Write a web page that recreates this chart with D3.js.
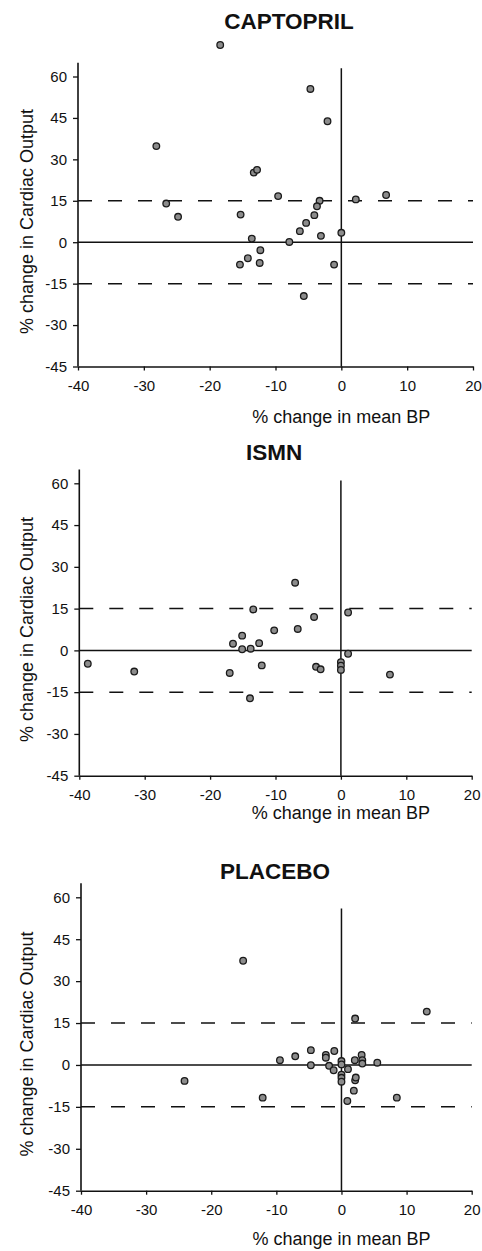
<!DOCTYPE html>
<html>
<head>
<meta charset="utf-8">
<script src="https://cdn.jsdelivr.net/npm/d3@7/dist/d3.min.js"></script>
<style>
  html, body { margin: 0; padding: 0; background: #fff; }
  svg { display: block; }
  text { font-family: "Liberation Sans", Arial, Helvetica, sans-serif; fill: #111; }
</style>
</head>
<body>
<svg id="chart" width="482" height="1251"></svg>
<script>
// ---- Data ----
const panelTitles = ["CAPTOPRIL", "ISMN", "PLACEBO"];
const xTicks = [-40, -30, -20, -10, 0, 10, 20];
const yTicks = [60, 45, 30, 15, 0, -15, -30, -45];
const thresholds = [15, -15];
const xLabel = "% change in mean BP";
const yLabel = "% change in Cardiac Output";

const captoprilBP = [-18.4, -4.7, -2.1, -28.1, -13.3, -12.8, -9.6, -15.3, -3.3, -3.7, -4.1, -5.35, -6.3, -3.1, 0, 2.2, 6.8, -26.6, -24.8, -13.6, -7.9, -12.3, -14.2, -15.4, -12.4, -1.1, -5.7];
const captoprilCO = [71.4, 55.5, 43.8, 34.8, 25.2, 26.2, 16.7, 10.0, 15.0, 13.0, 9.8, 7.0, 4.0, 2.3, 3.4, 15.5, 17.1, 14.0, 9.2, 1.3, 0.1, -2.9, -5.8, -8.1, -7.5, -8.1, -19.5];

const ismnBP = [-7.0, -13.4, -4.1, 1.1, -10.2, -6.6, -15.1, -16.5, -12.5, -15.1, -13.8, 1.1, -38.7, -31.6, -17.0, -12.1, -3.8, -3.1, 0, 0, 0, 7.5, -13.9];
const ismnCO = [24.3, 14.7, 12.0, 13.6, 7.2, 7.7, 5.3, 2.4, 2.6, 0.4, 0.6, -1.2, -4.8, -7.6, -8.1, -5.4, -5.9, -6.8, -4.2, -5.5, -7.0, -8.7, -17.2];

const placeboBP = [-15.1, 13.1, 2.1, -24.1, -12.1, 8.5, 0.9, 1.9, 2.1, -9.45, -7.1, -4.7, -4.7, -2.4, -2.4, -1.1, -1.9, -1.2, 0, 0, 1.0, 0, 0, 0, 2.05, 3.1, 3.2, 3.2, 5.5, 2.2];
const placeboCO = [37.3, 19.1, 16.6, -5.7, -11.7, -11.7, -12.9, -9.2, -5.5, 1.7, 3.1, 5.3, -0.1, 3.6, 2.6, 5.0, -0.3, -1.9, 1.4, 0.2, -1.5, -3.5, -4.6, -6.0, 1.7, 3.6, 1.7, 0.5, 0.8, -4.5];

const seriesX = [captoprilBP, ismnBP, placeboBP];
const seriesY = [captoprilCO, ismnCO, placeboCO];

// ---- Layout (pixels) ----
const layout = [
  { x0: 78,   x1: 473,   yTop: 76.5,  yBot: 366.5,  titleX: 289, titleY: 29,  xLabY: 423,  zeroTop: 63 },
  { x0: 79.3, x1: 471.7, yTop: 483.3, yBot: 775.7,  titleX: 274, titleY: 460, xLabY: 819,  zeroTop: 61 },
  { x0: 81,   x1: 471.7, yTop: 897.3, yBot: 1190.7, titleX: 275, titleY: 879, xLabY: 1245, zeroTop: 56 }
];

const svg = d3.select("#chart");

layout.forEach((L, i) => {
  const g = svg.append("g");
  const x = d3.scaleLinear().domain([-40, 20]).range([L.x0, L.x1]);
  const y = d3.scaleLinear().domain([-45, 60]).range([L.yBot, L.yTop]);

  // Title
  g.append("text")
    .attr("x", L.titleX).attr("y", L.titleY)
    .attr("text-anchor", "middle")
    .attr("font-size", 22.5).attr("font-weight", "bold")
    .attr("fill", "#222")
    .text(panelTitles[i]);

  // Y axis
  const ya = d3.axisLeft(y).tickValues(yTicks).tickSize(5).tickPadding(6)
    .tickFormat(d => String(d));
  const yg = g.append("g").attr("transform", `translate(${L.x0},0)`).call(ya);
  yg.select(".domain").remove();
  yg.selectAll("line").attr("stroke", "#111").attr("stroke-width", 1.3);
  yg.selectAll("text").attr("font-size", 15).attr("fill", "#111")
    .style("font-family", '"Liberation Sans", Arial, sans-serif');
  g.append("line")
    .attr("x1", L.x0).attr("x2", L.x0)
    .attr("y1", y(65)).attr("y2", y(-45))
    .attr("stroke", "#111").attr("stroke-width", 1.6);

  // X axis
  const xa = d3.axisBottom(x).tickValues(xTicks).tickSize(4).tickPadding(10)
    .tickSizeOuter(0).tickFormat(d => String(d));
  const xg = g.append("g").attr("transform", `translate(0,${L.yBot})`).call(xa);
  xg.select(".domain").attr("stroke", "#111").attr("stroke-width", 1.6);
  xg.selectAll("line").attr("stroke", "#111").attr("stroke-width", 1.3);
  xg.selectAll("text").attr("font-size", 15).attr("fill", "#111")
    .style("font-family", '"Liberation Sans", Arial, sans-serif');

  // Zero lines
  g.append("line")
    .attr("x1", x(-40)).attr("x2", x(20))
    .attr("y1", y(0)).attr("y2", y(0))
    .attr("stroke", "#111").attr("stroke-width", 1.5);
  g.append("line")
    .attr("x1", x(0)).attr("x2", x(0))
    .attr("y1", y(L.zeroTop)).attr("y2", y(-45))
    .attr("stroke", "#111").attr("stroke-width", 1.5);

  // Dashed threshold lines
  g.selectAll(".thr").data(thresholds).join("line")
    .attr("x1", x(-40)).attr("x2", x(20))
    .attr("y1", d => y(d)).attr("y2", d => y(d))
    .attr("stroke", "#111").attr("stroke-width", 1.5)
    .attr("stroke-dasharray", "14,16");

  // Points
  const pts = seriesX[i].map((v, k) => ({ bp: v, co: seriesY[i][k] }));
  g.selectAll(".pt").data(pts).join("circle")
    .attr("cx", d => x(d.bp)).attr("cy", d => y(d.co))
    .attr("r", 3.3)
    .attr("fill", "#8c8c8c").attr("stroke", "#1a1a1a").attr("stroke-width", 1.3);

  // X label
  g.append("text")
    .attr("x", x(0)).attr("y", L.xLabY)
    .attr("text-anchor", "middle").attr("font-size", 18)
    .text(xLabel);

  // Y label
  const cy = (L.yTop + L.yBot) / 2;
  g.append("text")
    .attr("transform", `translate(33,${cy}) rotate(-90)`)
    .attr("text-anchor", "middle").attr("font-size", 18)
    .text(yLabel);
});
</script>
</body>
</html>
